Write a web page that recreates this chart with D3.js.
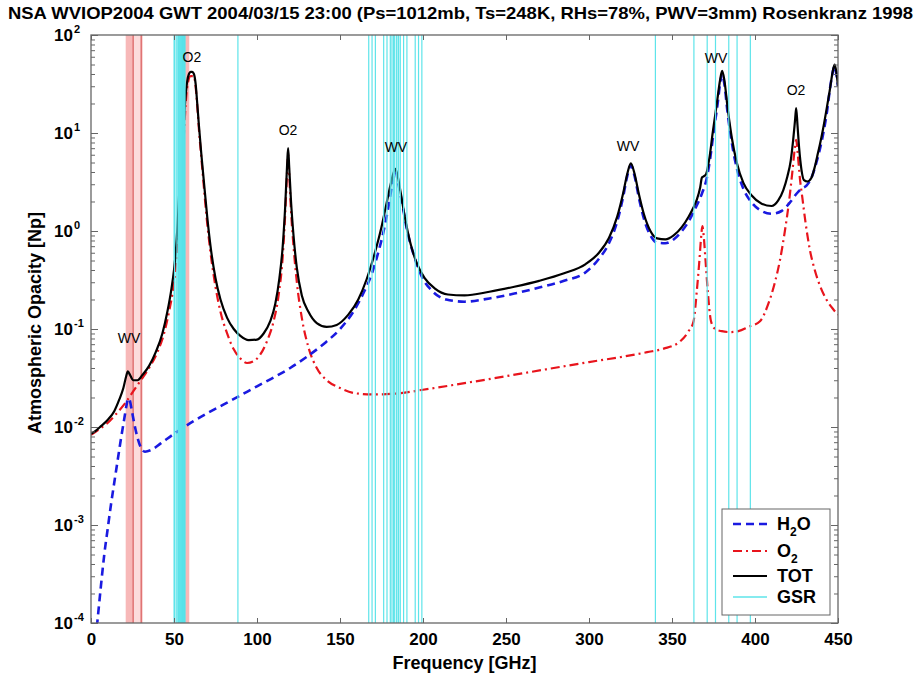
<!DOCTYPE html>
<html>
<head>
<meta charset="utf-8">
<script src="https://cdnjs.cloudflare.com/ajax/libs/d3/7.8.5/d3.min.js"></script>
<style>
  body { margin: 0; background: #fff; }
  svg { display: block; font-family: "Liberation Sans", Arial, sans-serif; }
</style>
</head>
<body>
<svg id="chart" width="919" height="675"></svg>
<script>
// values (frequency in GHz, opacity in Np)
var totFreq = [0, 3, 6, 10, 14, 17, 19.5, 21.2, 22.2, 23.5, 25.5, 28, 31, 35, 39, 43, 46, 48.5, 50, 51.2, 52.2, 53, 54, 55, 56, 57, 58, 59, 60, 61, 62, 63, 64, 65, 66.5, 68, 70, 72, 75, 78, 82, 86, 90, 95, 100, 104, 108, 111, 113.5, 115.5, 117, 118.2, 118.75, 119.4, 120.5, 122, 124, 127, 131, 136, 142, 148, 155, 161, 166, 171, 175, 178, 180.5, 182.2, 183.3, 184.5, 186.5, 189, 192, 196, 201, 207, 215, 225, 240, 255, 270, 285, 298, 306, 312, 317, 320.5, 323, 325.2, 327.5, 330, 333, 337, 341, 346, 351, 356, 360, 363, 365, 367, 368, 369, 370.5, 372.5, 374.5, 377, 379, 380.2, 381.5, 383.5, 386, 389, 393, 398, 404, 410, 414, 417, 419.5, 421.5, 423, 424.2, 424.8, 425.6, 426.6, 428, 429.5, 431.5, 434, 436, 437.5, 439, 441, 443, 445, 447, 448, 449, 450];
var totTau  = [0.0085, 0.0092, 0.0102, 0.0118, 0.0145, 0.019, 0.025, 0.033, 0.037, 0.034, 0.030, 0.030, 0.034, 0.042, 0.058, 0.09, 0.15, 0.26, 0.4, 0.65, 1.2, 2.2, 4, 7.5, 14, 24, 34, 40, 42, 42, 40, 32, 20, 12, 6, 3.2, 1.4, 0.7, 0.33, 0.2, 0.13, 0.1, 0.085, 0.077, 0.078, 0.09, 0.12, 0.18, 0.33, 0.7, 1.8, 5, 7, 4.5, 2, 0.9, 0.42, 0.22, 0.15, 0.115, 0.105, 0.11, 0.14, 0.2, 0.32, 0.6, 1.1, 1.9, 3.0, 3.9, 4.3, 3.8, 2.5, 1.4, 0.8, 0.48, 0.33, 0.26, 0.225, 0.22, 0.24, 0.27, 0.31, 0.37, 0.46, 0.6, 0.85, 1.4, 2.4, 3.8, 4.9, 3.8, 2.4, 1.5, 1.0, 0.84, 0.82, 0.9, 1.1, 1.4, 1.75, 2.1, 2.8, 3.5, 3.6, 3.8, 5.5, 10, 20, 35, 43, 35, 18, 9, 5, 3.1, 2.3, 1.9, 1.8, 2.05, 2.6, 3.6, 5.2, 8.5, 14, 18, 12, 7, 4.2, 3.3, 3.2, 3.5, 4.5, 5.8, 7.5, 11, 17, 27, 44, 50, 42, 30];

var h2oFreq = [3.5, 6, 8, 10, 12, 14, 16, 18, 20, 21.5, 22.3, 23.2, 24.5, 26, 28, 30, 32.5, 36, 42, 50, 60, 70, 80, 90, 100, 110, 120, 130, 140, 150, 158, 164, 169, 173, 176, 179, 181.2, 183.3, 185.2, 187.5, 190, 194, 199, 206, 214, 225, 240, 255, 270, 285, 298, 306, 312, 317, 320.5, 323, 325.2, 327.5, 330, 333, 337, 341, 346, 351, 356, 360, 364, 368, 371, 373, 375, 377.5, 379, 380.2, 381.5, 383.5, 386, 389, 393, 398, 404, 410, 416, 421, 425, 428, 431, 434, 437, 440, 443, 446, 448, 449, 450];
var h2oTau  = [0.00009, 0.00024, 0.0005, 0.0009, 0.0016, 0.0027, 0.0045, 0.0075, 0.012, 0.017, 0.0195, 0.019, 0.015, 0.011, 0.0078, 0.0062, 0.0056, 0.0058, 0.0068, 0.0085, 0.011, 0.0138, 0.017, 0.021, 0.026, 0.032, 0.04, 0.052, 0.07, 0.1, 0.15, 0.23, 0.36, 0.6, 0.95, 1.7, 2.8, 4.1, 3.0, 1.9, 1.1, 0.6, 0.35, 0.24, 0.2, 0.19, 0.205, 0.23, 0.265, 0.31, 0.38, 0.52, 0.75, 1.25, 2.2, 3.6, 4.7, 3.6, 2.2, 1.35, 0.9, 0.76, 0.75, 0.82, 1.0, 1.25, 1.7, 2.4, 3.5, 5.5, 10, 20, 32, 40, 32, 16, 8, 4.4, 2.7, 1.95, 1.6, 1.5, 1.6, 1.95, 2.4, 2.7, 2.9, 3.5, 5, 8, 15, 35, 48, 40, 30];

var o2Freq = [0, 5, 10, 15, 20, 25, 30, 35, 40, 44, 47, 50, 52, 54, 56, 58, 60, 62, 63, 64, 65, 66.5, 68, 70, 72, 75, 78, 82, 86, 90, 94, 98, 102, 106, 110, 113, 115.5, 117, 118.2, 118.75, 119.4, 120.5, 122, 124, 127, 131, 136, 142, 150, 160, 170, 185, 200, 225, 250, 275, 300, 320, 335, 345, 355, 360, 363, 365, 366.5, 367.5, 368.3, 369.2, 370.2, 371.5, 373.5, 376, 380, 385, 390, 396, 403, 408, 412, 415, 418, 420.5, 422.5, 424, 424.8, 425.8, 427, 428.5, 430.5, 433, 436, 439, 443, 447, 450];
var o2Tau  = [0.0083, 0.0095, 0.011, 0.0135, 0.017, 0.0225, 0.03, 0.04, 0.058, 0.09, 0.15, 0.3, 0.7, 2, 10, 30, 38, 38, 30, 19, 11, 5.5, 2.8, 1.2, 0.6, 0.27, 0.15, 0.09, 0.062, 0.05, 0.045, 0.047, 0.055, 0.075, 0.12, 0.22, 0.55, 1.5, 4.2, 6, 3.8, 1.6, 0.7, 0.3, 0.13, 0.065, 0.04, 0.03, 0.025, 0.022, 0.0215, 0.022, 0.024, 0.028, 0.033, 0.039, 0.046, 0.052, 0.058, 0.063, 0.075, 0.095, 0.12, 0.25, 0.5, 0.85, 1.12, 0.85, 0.5, 0.25, 0.12, 0.1, 0.095, 0.093, 0.095, 0.105, 0.12, 0.18, 0.3, 0.5, 1.0, 2.0, 4, 7, 8.5, 6, 3.5, 2.2, 1.2, 0.65, 0.4, 0.28, 0.2, 0.16, 0.14];

// GSR channel centres [GHz]
var gsrChannels = [50.3, 51.76, 52.625, 53.29, 53.845, 54.4, 54.94, 55.5, 56.02, 56.66, 88.5,
  167.31, 169.31, 171.31, 176.31, 178.31, 180.31, 181.31, 182.31, 182.71, 183.91, 184.31, 185.31, 186.31, 188.31, 190.31, 195.31, 197.31, 199.31,
  340, 363.2, 371.2, 376.2, 384.2, 389.2, 397.2];
var gsrWideBand = [49.4, 52.4];
var gsrDenseBand = [52.4, 56.6];
// other radiometer bands (pink)
var pinkBands = [[20.9, 25.6], [25.8, 29.8], [29.7, 31.0], [56.6, 59.2]];
var pinkLines = [25.4, 30.3];

var labels = ["WV", "O2", "O2", "WV", "WV", "WV", "O2"];
var labelFreq = [22.9, 60.8, 118.7, 183.7, 323.5, 376.5, 424.7];
var labelTau = [0.081, 60, 10.7, 7.2, 7.4, 58, 27.5];

var xTicks = [0, 50, 100, 150, 200, 250, 300, 350, 400, 450];
var yExponents = [-4, -3, -2, -1, 0, 1, 2];

var title = "NSA WVIOP2004 GWT 2004/03/15 23:00 (Ps=1012mb, Ts=248K, RHs=78%, PWV=3mm) Rosenkranz 1998";

// ---- layout ----
var plotL = 91, plotR = 838, plotT = 35, plotB = 623;
var frameColor = "#666";

var svg = d3.select("#chart");
var x = d3.scaleLinear().domain([0, 450]).range([plotL, plotR]);
var y = d3.scaleLog().domain([1e-4, 1e2]).range([plotB, plotT]);

svg.append("defs").append("clipPath").attr("id", "plotclip")
  .append("rect").attr("x", plotL).attr("y", plotT)
  .attr("width", plotR - plotL).attr("height", plotB - plotT);

var plot = svg.append("g").attr("clip-path", "url(#plotclip)");

// pink bands under the curves
plot.selectAll(".pink").data(pinkBands).enter().append("rect")
  .attr("x", function(d) { return x(d[0]); })
  .attr("width", function(d) { return x(d[1]) - x(d[0]); })
  .attr("y", plotT).attr("height", plotB - plotT)
  .attr("fill", function(d, i) { return i === 1 ? "#fcdcdc" : "#f7b8b8"; });
plot.selectAll(".pinkline").data(pinkLines).enter().append("line")
  .attr("x1", x).attr("x2", x).attr("y1", plotT).attr("y2", plotB)
  .attr("stroke", "#e07474").attr("stroke-width", 1.5);

plot.append("rect")
  .attr("x", x(gsrWideBand[0])).attr("width", x(gsrWideBand[1]) - x(gsrWideBand[0]))
  .attr("y", plotT).attr("height", plotB - plotT).attr("fill", "#b4f3f5");

var line = d3.line()
  .x(function(d) { return x(d[0]); })
  .y(function(d) { return y(d[1]); })
  .curve(d3.curveMonotoneX);

plot.append("path").datum(d3.zip(o2Freq, o2Tau))
  .attr("d", line).attr("fill", "none")
  .attr("stroke", "#e8141c").attr("stroke-width", 2.2)
  .attr("stroke-dasharray", "9,4,2,4");

plot.append("path").datum(d3.zip(h2oFreq, h2oTau))
  .attr("d", line).attr("fill", "none")
  .attr("stroke", "#1a1ae0").attr("stroke-width", 2.6)
  .attr("stroke-dasharray", "8,5");

plot.append("path").datum(d3.zip(totFreq, totTau))
  .attr("d", line).attr("fill", "none")
  .attr("stroke", "#000").attr("stroke-width", 2.2);

// GSR channels drawn over the curves
plot.append("rect")
  .attr("x", x(gsrDenseBand[0])).attr("width", x(gsrDenseBand[1]) - x(gsrDenseBand[0]))
  .attr("y", plotT).attr("height", plotB - plotT).attr("fill", "#2fd6de");
plot.selectAll(".gsr").data(gsrChannels).enter().append("line")
  .attr("x1", x).attr("x2", x).attr("y1", plotT).attr("y2", plotB)
  .attr("stroke", "#5ee4ea").attr("stroke-width", 1.2);

// line labels
svg.selectAll(".lbl").data(labels).enter().append("text")
  .attr("x", function(d, i) { return x(labelFreq[i]); })
  .attr("y", function(d, i) { return y(labelTau[i]); })
  .attr("dy", "0.36em")
  .attr("text-anchor", "middle")
  .attr("font-size", 14)
  .text(function(d) { return d; });

// ---- axes ----
var minorTicks = [];
yExponents.forEach(function(e) {
  if (e < 2) for (var k = 2; k <= 9; k++) minorTicks.push(k * Math.pow(10, e));
});
var majorTicks = yExponents.map(function(e) { return Math.pow(10, e); });

function styleAxis(g) {
  g.select(".domain").remove();
  g.selectAll("line").attr("stroke", frameColor);
}

svg.append("g").attr("transform", "translate(" + plotL + ",0)")
  .call(d3.axisLeft(y).tickValues(minorTicks).tickSize(-4).tickFormat("")).call(styleAxis);
svg.append("g").attr("transform", "translate(" + plotL + ",0)")
  .call(d3.axisLeft(y).tickValues(majorTicks).tickSize(-7).tickFormat("")).call(styleAxis);
svg.append("g").attr("transform", "translate(" + plotR + ",0)")
  .call(d3.axisRight(y).tickValues(minorTicks).tickSize(-4).tickFormat("")).call(styleAxis);
svg.append("g").attr("transform", "translate(" + plotR + ",0)")
  .call(d3.axisRight(y).tickValues(majorTicks).tickSize(-7).tickFormat("")).call(styleAxis);
svg.append("g").attr("transform", "translate(0," + plotT + ")")
  .call(d3.axisTop(x).tickValues(xTicks).tickSize(-5).tickFormat("")).call(styleAxis);

var xAxis = svg.append("g").attr("transform", "translate(0," + plotB + ")")
  .call(d3.axisBottom(x).tickValues(xTicks).tickSize(-5).tickPadding(10).tickFormat(d3.format("d")))
  .call(styleAxis);
xAxis.selectAll("text").attr("font-size", 17).attr("font-weight", "bold")
  .attr("fill", "#000").attr("font-family", "Liberation Sans, Arial, sans-serif");

svg.append("rect").attr("x", plotL).attr("y", plotT)
  .attr("width", plotR - plotL).attr("height", plotB - plotT)
  .attr("fill", "none").attr("stroke", frameColor).attr("stroke-width", 1.3);

// y tick labels 10^n
var yLab = svg.append("g").attr("font-weight", "bold");
yExponents.forEach(function(e) {
  var ty = y(Math.pow(10, e));
  yLab.append("text").attr("x", 54).attr("y", ty + 6).attr("font-size", 17).text("10");
  yLab.append("text").attr("x", 74).attr("y", ty - 2).attr("font-size", 11).text(e);
});

svg.append("text")
  .attr("transform", "translate(41," + ((plotT + plotB) / 2 - 6) + ") rotate(-90)")
  .attr("text-anchor", "middle").attr("font-size", 18).attr("font-weight", "bold")
  .text("Atmospheric Opacity [Np]");

svg.append("text")
  .attr("x", (plotL + plotR) / 2).attr("y", 669)
  .attr("text-anchor", "middle").attr("font-size", 18).attr("font-weight", "bold")
  .text("Frequency [GHz]");

svg.append("text")
  .attr("x", 8).attr("y", 19)
  .attr("font-size", 17).attr("font-weight", "bold")
  .attr("textLength", 905).attr("lengthAdjust", "spacingAndGlyphs")
  .text(title);

// ---- legend ----
var legend = svg.append("g");
legend.append("rect").attr("x", 722).attr("y", 509).attr("width", 108).attr("height", 106)
  .attr("fill", "#fff").attr("stroke", frameColor).attr("stroke-width", 1);

var legendRows = [
  { y: 524, stroke: "#1a1ae0", width: 2.6, dash: "8,5", name: "H", sub: "2", tail: "O" },
  { y: 551, stroke: "#e8141c", width: 2.2, dash: "9,4,2,4", name: "O", sub: "2", tail: "" },
  { y: 576, stroke: "#000", width: 2.2, dash: null, name: "TOT", sub: "", tail: "" },
  { y: 597, stroke: "#5ee4ea", width: 1.5, dash: null, name: "GSR", sub: "", tail: "" }
];
legendRows.forEach(function(r) {
  legend.append("line").attr("x1", 733).attr("x2", 767).attr("y1", r.y).attr("y2", r.y)
    .attr("stroke", r.stroke).attr("stroke-width", r.width)
    .attr("stroke-dasharray", r.dash);
  var t = legend.append("text").attr("x", 777).attr("y", r.y + 6)
    .attr("font-size", 18).attr("font-weight", "bold");
  t.append("tspan").text(r.name);
  if (r.sub) {
    t.append("tspan").attr("font-size", 12).attr("dy", 6).text(r.sub);
    if (r.tail) t.append("tspan").attr("dy", -6).text(r.tail);
  }
});
</script>
</body>
</html>
